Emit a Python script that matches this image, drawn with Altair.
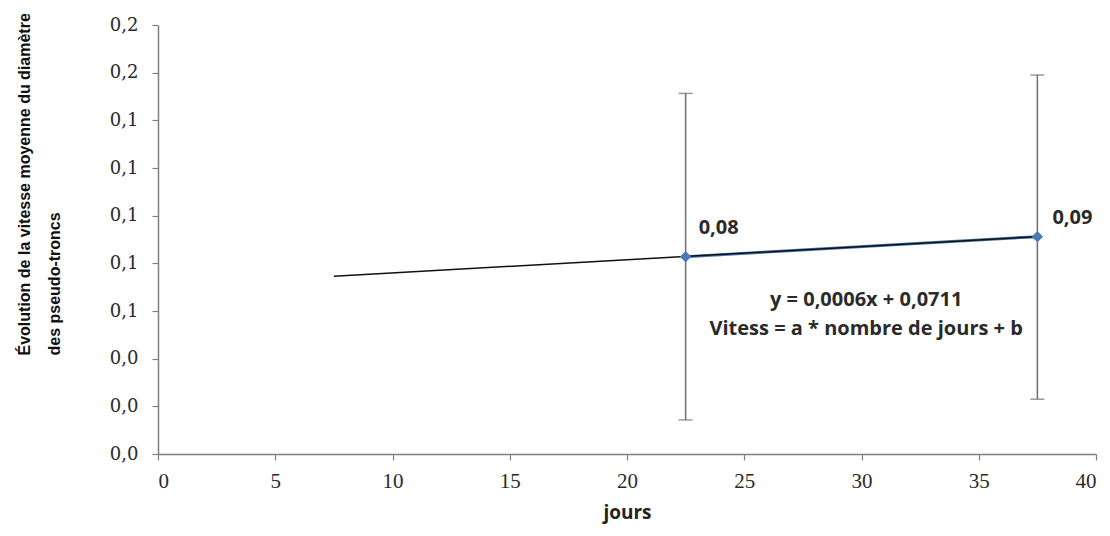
import altair as alt
import pandas as pd

jours = [22.5, 37.5]
vitesse = [0.0828, 0.0912]
err_low = [0.0143, 0.0230]
err_high = [0.1513, 0.1590]
point_labels = ["0,08", "0,09"]

trend_x = [7.5, 37.5]
trend_y = [0.0746, 0.0912]

eq_x = [30.2]
eq_y = [0.0648]
eq_text = [["y = 0,0006x + 0,0711", "Vitess = a * nombre de jours + b"]]

x_ticks = [0, 5, 10, 15, 20, 25, 30, 35, 40]
y_ticks = [0, 0.02, 0.04, 0.06, 0.08, 0.10, 0.12, 0.14, 0.16, 0.18]

df = pd.DataFrame({"jours": jours, "vitesse": vitesse, "lo": err_low,
                   "hi": err_high, "lab": point_labels})
df_trend = pd.DataFrame({"jours": trend_x, "vitesse": trend_y})
df_eq = pd.DataFrame({"jours": eq_x, "vitesse": eq_y, "t": eq_text})

xs = alt.Scale(domain=[0, 40], nice=False, zero=False)
ys = alt.Scale(domain=[0, 0.18], nice=False, zero=False)

x_axis = alt.Axis(values=x_ticks, title="jours", grid=False,
                  labelFont="Liberation Serif", labelFontSize=21, labelColor="#2a2a2a",
                  titleFont="Open Sans", titleFontSize=19, titleFontWeight="bold",
                  titleColor="#222222", titlePadding=12,
                  domainColor="#808080", tickColor="#808080", tickSize=6,
                  labelPadding=10, domainWidth=1.5, tickWidth=1.2)
y_axis = alt.Axis(values=y_ticks, grid=False,
                  labelExpr="replace(format(datum.value, '.1f'), '.', ',')",
                  labelFont="DejaVu Serif", labelFontSize=18, labelColor="#2a2a2a",
                  title=["Évolution de la vitesse moyenne du diamètre", "des pseudo-troncs"],
                  titleFont="Liberation Sans", titleFontSize=16, titleFontWeight="bold",
                  titleColor="#111111", titleAngle=270, titleAlign="left",
                  titleBaseline="top", titleX=-142, titleY=330, titleLineHeight=30,
                  domainColor="#808080", tickColor="#808080", tickSize=6,
                  labelPadding=14, domainWidth=1.5, tickWidth=1.2)

base = alt.Chart(df)

err = base.mark_rule(color="#6e6e6e", strokeWidth=1.5).encode(
    x=alt.X("jours:Q", scale=xs, axis=x_axis),
    y=alt.Y("lo:Q", scale=ys, axis=y_axis),
    y2="hi:Q")
cap_lo = base.mark_tick(color="#6e6e6e", thickness=1.5, size=14, orient="horizontal").encode(
    x=alt.X("jours:Q", scale=xs), y=alt.Y("lo:Q", scale=ys))
cap_hi = base.mark_tick(color="#6e6e6e", thickness=1.5, size=14, orient="horizontal").encode(
    x=alt.X("jours:Q", scale=xs), y=alt.Y("hi:Q", scale=ys))

line = base.mark_line(color="#4a7ab5", strokeWidth=3).encode(
    x=alt.X("jours:Q", scale=xs), y=alt.Y("vitesse:Q", scale=ys))
trend = alt.Chart(df_trend).mark_line(color="#111111", strokeWidth=1.5).encode(
    x=alt.X("jours:Q", scale=xs), y=alt.Y("vitesse:Q", scale=ys))
pts = base.mark_point(shape="diamond", filled=True, size=130, color="#4a7ab5", opacity=1).encode(
    x=alt.X("jours:Q", scale=xs), y=alt.Y("vitesse:Q", scale=ys))

lab_style = dict(align="left", baseline="middle", font="Open Sans", fontSize=20,
                 fontWeight="bold", color="#2a2a2a")
label1 = base.transform_filter(alt.datum.lab == "0,08").mark_text(
    dx=13, dy=-29, **lab_style).encode(
    x=alt.X("jours:Q", scale=xs), y=alt.Y("vitesse:Q", scale=ys), text="lab:N")
label2 = base.transform_filter(alt.datum.lab == "0,09").mark_text(
    dx=15, dy=-19, **lab_style).encode(
    x=alt.X("jours:Q", scale=xs), y=alt.Y("vitesse:Q", scale=ys), text="lab:N")

eq = alt.Chart(df_eq).mark_text(align="center", baseline="middle", lineHeight=29,
                                font="Open Sans", fontSize=20, fontWeight="bold",
                                color="#2a2a2a").encode(
    x=alt.X("jours:Q", scale=xs), y=alt.Y("vitesse:Q", scale=ys), text="t")

chart = alt.layer(err, cap_lo, cap_hi, line, trend, pts, label1, label2, eq).properties(
    width=938, height=429,
    autosize=alt.AutoSizeParams(type="none"),
    padding={"left": 150, "top": 17, "right": 6, "bottom": 74},
    background="white",
).configure_view(stroke=None)

chart.save("out.html", embed_options={"renderer": "svg", "actions": False})
